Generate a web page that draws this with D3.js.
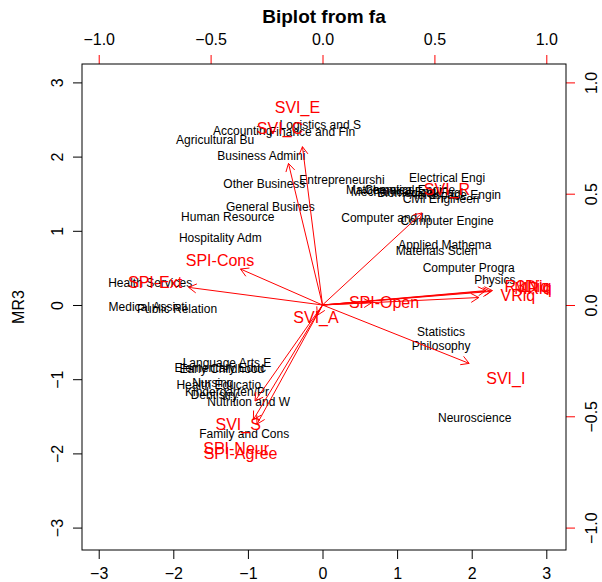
<!DOCTYPE html>
<html>
<head>
<meta charset="utf-8">
<script src="https://cdn.jsdelivr.net/npm/d3@7"></script>
<style>
  html, body { margin: 0; padding: 0; background: #fff; }
  svg { display: block; font-family: "Liberation Sans", Arial, Helvetica, sans-serif; }
</style>
</head>
<body>
<svg id="chart" width="602" height="582"></svg>
<script>
// Factor scores of each major (MR1 horizontal, MR3 vertical)
const majors = [
  "Agricultural Bu", "Accounting", "Finance and Fin", "Logistics and S",
  "Business Admini", "Other Business", "Entrepreneurshi", "General Busines",
  "Human Resource", "Hospitality Adm", "Electrical Engi", "Mathematics",
  "Mechanical Engi", "Chemical Engine", "Biomedical Engi", "Aerospace Engin",
  "Civil Engineeri", "Computer and In", "Computer Engine", "Applied Mathema",
  "Materials Scien", "Computer Progra", "Physics", "Statistics",
  "Philosophy", "Neuroscience", "Health Services", "Medical Assisti",
  "Public Relation", "Language Arts E", "Elementary Educ", "Early Childhood",
  "Health Educatio", "Nursing", "Kindergarten/Pr", "Dentistry",
  "Nutrition and W", "Family and Cons"
];
const scoreX = [
  -1.44, -1.07, -0.14, -0.03,
  -0.82, -0.78, 0.26, -0.70,
  -1.27, -1.37, 1.67, 0.77,
  0.97, 1.17, 1.31, 1.78,
  1.59, 0.85, 1.67, 1.64,
  1.53, 1.96, 2.31, 1.59,
  1.59, 2.04, -2.31, -2.34,
  -1.95, -1.28, -1.37, -1.35,
  -1.39, -1.47, -1.28, -1.45,
  -0.99, -1.05
];
const scoreY = [
  2.22, 2.35, 2.33, 2.43,
  2.01, 1.63, 1.68, 1.32,
  1.19, 0.90, 1.71, 1.55,
  1.52, 1.55, 1.51, 1.48,
  1.43, 1.17, 1.13, 0.81,
  0.73, 0.50, 0.34, -0.36,
  -0.55, -1.52, 0.30, -0.03,
  -0.05, -0.78, -0.85, -0.86,
  -1.08, -1.05, -1.17, -1.21,
  -1.31, -1.74
];

// Variable loadings on the two factors
const variables = [
  "SVI_E", "SVI_C", "SVI_R", "SPI-Cons", "SPI-Ext", "SVI_A", "SPI-Open",
  "VRiq", "R3Diq", "LNiq", "MRiq", "SVI_I", "SVI_S", "SPI-Neur", "SPI-Agree"
];
const loadX = [
  -0.112, -0.19, 0.556, -0.458, -0.748, -0.029, 0.275,
  0.873, 0.913, 0.949, 0.94, 0.819, -0.377, -0.386, -0.366
];
const loadY = [
  0.889, 0.795, 0.517, 0.202, 0.099, -0.058, 0.013,
  0.042, 0.081, 0.081, 0.076, -0.328, -0.539, -0.643, -0.669
];

const scoreTicks = [-3, -2, -1, 0, 1, 2, 3];
const loadTicks = [-1.0, -0.5, 0.0, 0.5, 1.0];

// Plot frame
const frame = { left: 82, right: 566, top: 64, bottom: 550 };
const xDom = [-3.224, 3.264], yDom = [-3.302, 3.248];

const svg = d3.select("#chart");
const x = d3.scaleLinear().domain(xDom).range([frame.left, frame.right]);
const y = d3.scaleLinear().domain(yDom).range([frame.bottom, frame.top]);
// loadings share the frame at one third of the score range
const xl = d3.scaleLinear().domain(xDom.map(v => v / 3)).range([frame.left, frame.right]);
const yl = d3.scaleLinear().domain(yDom.map(v => v / 3)).range([frame.bottom, frame.top]);

const red = "#FF0000";
const tickLen = 9;

// Title
svg.append("text")
  .attr("x", (frame.left + frame.right) / 2).attr("y", 16)
  .attr("text-anchor", "middle").attr("dominant-baseline", "central")
  .attr("font-size", 19).attr("font-weight", "bold")
  .text("Biplot from fa");

// Y axis title
svg.append("text")
  .attr("transform", `translate(18,${(frame.top + frame.bottom) / 2}) rotate(-90)`)
  .attr("text-anchor", "middle").attr("dominant-baseline", "central")
  .attr("font-size", 16)
  .text("MR3");

// Score labels
svg.append("g").selectAll("text")
  .data(majors)
  .join("text")
  .attr("x", (d, i) => x(scoreX[i]))
  .attr("y", (d, i) => y(scoreY[i]))
  .attr("text-anchor", "middle").attr("dominant-baseline", "central")
  .attr("font-size", 12).attr("fill", "#000")
  .text(d => d);

// Loading arrows drawn to 0.8 of each loading, names at the loading itself
const arrows = svg.append("g").attr("stroke", red).attr("fill", "none").attr("stroke-width", 1);
const headLen = 9, headAng = Math.PI / 6;
variables.forEach((v, i) => {
  const x0 = xl(0), y0 = yl(0);
  const x1 = xl(loadX[i] * 0.8), y1 = yl(loadY[i] * 0.8);
  const a = Math.atan2(y1 - y0, x1 - x0);
  const p = d3.path();
  p.moveTo(x0, y0); p.lineTo(x1, y1);
  p.moveTo(x1 - headLen * Math.cos(a - headAng), y1 - headLen * Math.sin(a - headAng));
  p.lineTo(x1, y1);
  p.lineTo(x1 - headLen * Math.cos(a + headAng), y1 - headLen * Math.sin(a + headAng));
  arrows.append("path").attr("d", p.toString());
});

svg.append("g").selectAll("text")
  .data(variables)
  .join("text")
  .attr("x", (d, i) => xl(loadX[i]))
  .attr("y", (d, i) => yl(loadY[i]))
  .attr("text-anchor", "middle").attr("dominant-baseline", "central")
  .attr("font-size", 16).attr("fill", red)
  .text(d => d);

// Axes
function styleAxis(g, color) {
  g.select(".domain").remove();
  g.selectAll(".tick line").attr("stroke", color);
  g.selectAll(".tick text").attr("fill", "#000").attr("font-size", 16)
    .attr("font-family", "Liberation Sans, Arial, sans-serif");
}

const gB = svg.append("g").attr("transform", `translate(0,${frame.bottom})`)
  .call(d3.axisBottom(x).tickValues(scoreTicks).tickSize(tickLen).tickPadding(9).tickFormat(d3.format("d")));
styleAxis(gB, "#000");

const gL = svg.append("g").attr("transform", `translate(${frame.left},0)`)
  .call(d3.axisLeft(y).tickValues(scoreTicks).tickSize(tickLen).tickFormat(d3.format("d")));
styleAxis(gL, "#000");
gL.selectAll(".tick text")
  .attr("x", null).attr("dy", null)
  .attr("transform", "translate(-25,0) rotate(-90)")
  .attr("text-anchor", "middle").attr("dominant-baseline", "central");

const gT = svg.append("g").attr("transform", `translate(0,${frame.top})`)
  .call(d3.axisTop(xl).tickValues(loadTicks).tickSize(tickLen).tickPadding(10).tickFormat(d3.format(".1f")));
styleAxis(gT, red);

const gR = svg.append("g").attr("transform", `translate(${frame.right},0)`)
  .call(d3.axisRight(yl).tickValues(loadTicks).tickSize(tickLen).tickFormat(d3.format(".1f")));
styleAxis(gR, red);
gR.selectAll(".tick text")
  .attr("x", null).attr("dy", null)
  .attr("transform", "translate(25,0) rotate(-90)")
  .attr("text-anchor", "middle").attr("dominant-baseline", "central");

// Frame
svg.append("rect")
  .attr("x", frame.left).attr("y", frame.top)
  .attr("width", frame.right - frame.left).attr("height", frame.bottom - frame.top)
  .attr("fill", "none").attr("stroke", "#000").attr("stroke-width", 1);
</script>
</body>
</html>
